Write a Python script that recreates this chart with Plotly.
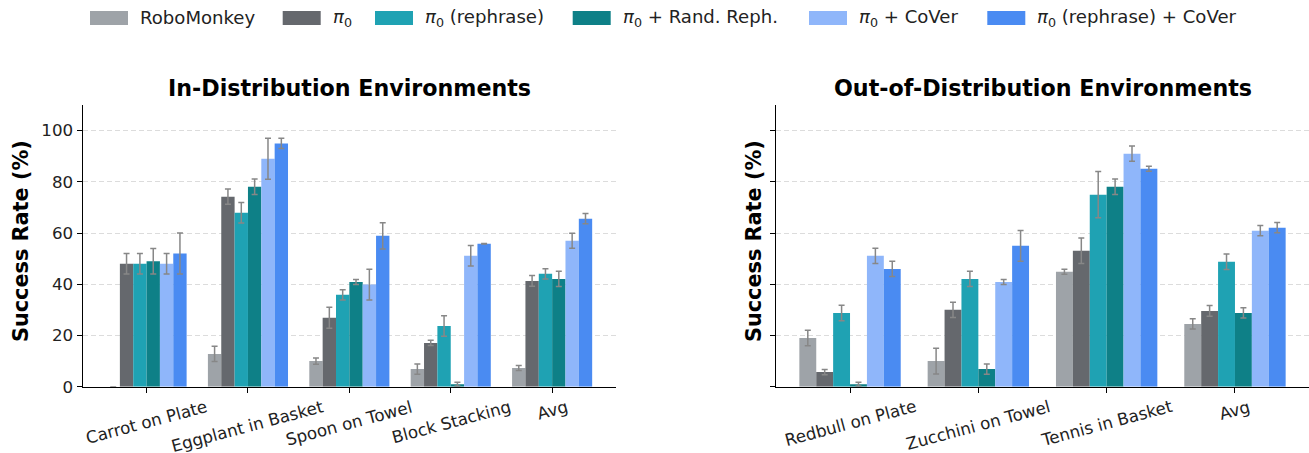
import plotly.graph_objects as go

# ---------------- data ----------------
series_names = [
    "RoboMonkey",
    "<i>π</i><sub>0</sub>",
    "<i>π</i><sub>0</sub> (rephrase)",
    "<i>π</i><sub>0</sub> + Rand. Reph.",
    "<i>π</i><sub>0</sub> + CoVer",
    "<i>π</i><sub>0</sub> (rephrase) + CoVer",
]
colors = ["#9ea3a8", "#65686d", "#1fa2b3", "#0e8087", "#8fb6fa", "#4a8bf2"]

id_categories = ["Carrot on Plate", "Eggplant in Basket", "Spoon on Towel", "Block Stacking", "Avg"]
id_values = [
    [0, 12.8, 10.0, 6.9, 7.3],      # RoboMonkey
    [48, 74.2, 26.9, 17.1, 41.3],   # pi0
    [48, 67.9, 35.9, 23.7, 44.1],   # pi0 rephrase
    [49, 78.1, 40.9, 1.0, 42.1],    # pi0 + rand reph
    [48, 89, 39.9, 51.1, 57.0],     # pi0 + CoVer
    [52, 95, 58.9, 55.8, 65.6],     # pi0 rephrase + CoVer
]
id_errors = [
    [0, 3.0, 1.2, 2.0, 1.0],
    [4, 3.0, 4.1, 1.0, 2.1],
    [4, 4.0, 2.0, 4.0, 2.0],
    [5, 3.0, 1.0, 0.7, 3.0],
    [4, 8.0, 6.0, 4.0, 2.9],
    [8, 2.0, 5.1, 0.1, 2.0],
]

ood_categories = ["Redbull on Plate", "Zucchini on Towel", "Tennis in Basket", "Avg"]
ood_values = [
    [19.0, 10.0, 44.9, 24.5],
    [5.7, 30.0, 53.1, 29.6],
    [28.8, 42.1, 75.0, 48.8],
    [1.0, 6.9, 78.1, 28.8],
    [51.1, 40.9, 91.0, 60.9],
    [46.0, 55.0, 85.1, 62.1],
]
ood_errors = [
    [3.0, 5.0, 1.0, 2.0],
    [1.0, 3.0, 5.0, 2.1],
    [3.0, 3.0, 9.0, 3.0],
    [0.7, 2.0, 3.0, 2.0],
    [3.0, 1.0, 3.0, 2.0],
    [3.0, 6.0, 1.0, 2.0],
]

y_ticks = [0, 20, 40, 60, 80, 100]

# ---------------- layout constants ----------------
FONT = "DejaVu Sans"
H = 453.0
W = 1309.0
TICK_SIZE = 16.7
LEG_SIZE = 18.1
TITLE_SIZE = 22.2
YLAB_SIZE = 20.8
legend_swatch_left = [90, 282.7, 375, 572.7, 809, 987.3]   # px from left
SW_W, SW_H, LEG_Y = 38, 14, 18

fig = go.Figure()

for j, name in enumerate(series_names):
    fig.add_trace(go.Bar(
        x=list(range(len(id_categories))), y=id_values[j], name=name,
        marker=dict(color=colors[j], line=dict(width=0)),
        error_y=dict(type="data", array=id_errors[j], color="#878787", thickness=1.5, width=3),
        xaxis="x", yaxis="y", showlegend=False,
    ))
for j, name in enumerate(series_names):
    fig.add_trace(go.Bar(
        x=list(range(len(ood_categories))), y=ood_values[j], name=name,
        marker=dict(color=colors[j], line=dict(width=0)),
        error_y=dict(type="data", array=ood_errors[j], color="#878787", thickness=1.5, width=3),
        xaxis="x2", yaxis="y2", showlegend=False,
    ))

ydom = [(H - 386.7) / H, (H - 105) / H]

common_y = dict(
    range=[0, 110], tickvals=y_ticks, showgrid=True, gridcolor="#dcdcdc", griddash="5px,3px",
    gridwidth=1, showline=True, linecolor="black", linewidth=1.3, ticks="outside",
    ticklen=5, tickwidth=1.2, tickcolor="black", zeroline=False, automargin=False,
    tickfont=dict(family=FONT, size=TICK_SIZE, color="#222222"), domain=ydom,
)
common_x = dict(
    showline=True, linecolor="black", linewidth=1.3, ticks="outside", ticklen=5, tickwidth=1.2,
    tickcolor="black", showgrid=False, zeroline=False, showticklabels=False, automargin=False,
)

annotations = []
# x tick labels (rotated, centred under tick like matplotlib rotation=15)
for i, c in enumerate(id_categories):
    annotations.append(dict(text=c, x=i, y=0, xref="x", yref="y", showarrow=False,
                            xanchor="center", yanchor="top", yshift=-7, textangle=-15,
                            font=dict(family=FONT, size=TICK_SIZE, color="#222222")))
for i, c in enumerate(ood_categories):
    annotations.append(dict(text=c, x=i, y=0, xref="x2", yref="y2", showarrow=False,
                            xanchor="center", yanchor="top", yshift=-7, textangle=-15,
                            font=dict(family=FONT, size=TICK_SIZE, color="#222222")))

annotations += [
    dict(text="<b>In-Distribution Environments</b>", x=(82.7 + 616) / 2 / W, y=(H - 88) / H,
         xref="paper", yref="paper", showarrow=False, xanchor="center", yanchor="middle",
         font=dict(family=FONT, size=TITLE_SIZE, color="black")),
    dict(text="<b>Out-of-Distribution Environments</b>", x=(776 + 1309) / 2 / W, y=(H - 88) / H,
         xref="paper", yref="paper", showarrow=False, xanchor="center", yanchor="middle",
         font=dict(family=FONT, size=TITLE_SIZE, color="black")),
    dict(text="<b>Success Rate (%)</b>", x=21 / W, y=(H - 241) / H, textangle=-90,
         xref="paper", yref="paper", showarrow=False, xanchor="center", yanchor="middle",
         font=dict(family=FONT, size=YLAB_SIZE, color="black")),
    dict(text="<b>Success Rate (%)</b>", x=754 / W, y=(H - 241) / H, textangle=-90,
         xref="paper", yref="paper", showarrow=False, xanchor="center", yanchor="middle",
         font=dict(family=FONT, size=YLAB_SIZE, color="black")),
]

# custom legend (matplotlib-style wide swatches)
shapes = []
for j, name in enumerate(series_names):
    x0 = legend_swatch_left[j]
    shapes.append(dict(type="rect", xref="paper", yref="paper",
                       x0=x0 / W, x1=(x0 + SW_W) / W,
                       y0=(H - LEG_Y - SW_H / 2) / H, y1=(H - LEG_Y + SW_H / 2) / H,
                       fillcolor=colors[j], line=dict(width=0)))
    annotations.append(dict(text=name, x=(x0 + SW_W + 10) / W, y=(H - LEG_Y) / H,
                            xref="paper", yref="paper", showarrow=False,
                            xanchor="left", yanchor="middle",
                            font=dict(family=FONT, size=LEG_SIZE, color="#222222")))

fig.update_layout(
    width=1309, height=453,
    margin=dict(l=0, r=0, t=0, b=0),
    plot_bgcolor="white", paper_bgcolor="white",
    barmode="group", bargap=0.21, bargroupgap=0,
    font=dict(family=FONT, color="black"),
    showlegend=False,
    xaxis=dict(common_x, domain=[82.7 / W, 616 / W], range=[-0.63, 4.63],
               tickvals=list(range(len(id_categories))), anchor="y"),
    yaxis=dict(common_y, anchor="x"),
    xaxis2=dict(common_x, domain=[776 / W, 1.0], range=[-0.577, 3.577],
                tickvals=list(range(len(ood_categories))), anchor="y2"),
    yaxis2=dict(common_y, anchor="x2", showticklabels=False),
    annotations=annotations,
    shapes=shapes,
)

fig.write_html("out.html", config={"displayModeBar": False},
               post_script="document.body.style.margin='0';document.body.style.overflow='hidden';")
